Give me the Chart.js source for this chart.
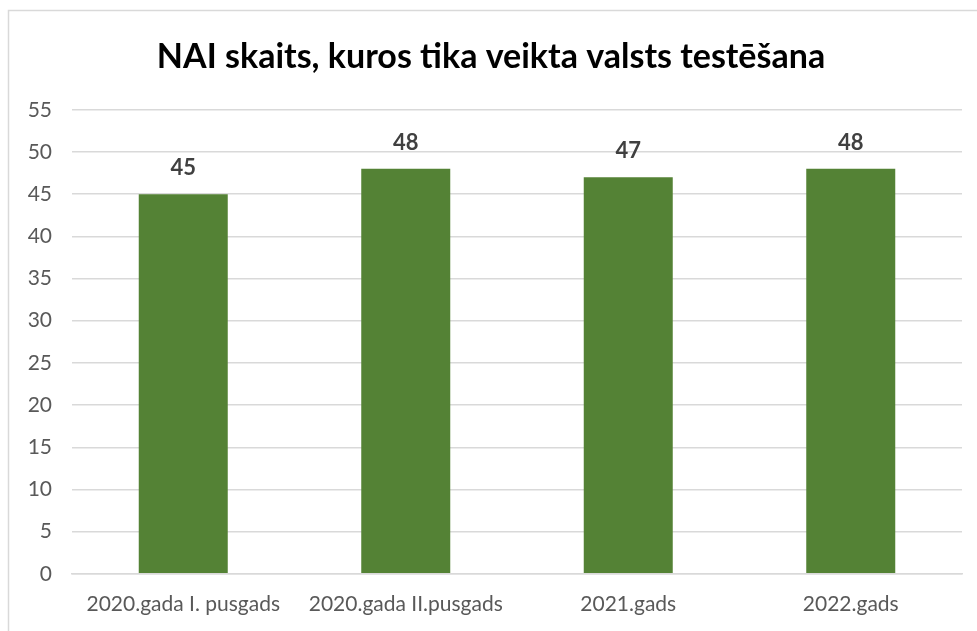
<!DOCTYPE html>
<html>
<head>
<meta charset="utf-8">
<script src="https://cdn.jsdelivr.net/npm/chart.js@4.4.0/dist/chart.umd.min.js"></script>
<style>
  html, body { margin: 0; padding: 0; background: #fff; }
  #wrap { width: 977px; height: 631px; position: relative; }
</style>
</head>
<body>
<div id="wrap"><canvas id="chart" width="977" height="631"></canvas></div>
<script>
const categories = ['2020.gada I. pusgads', '2020.gada II.pusgads', '2021.gads', '2022.gads'];
const values = [45, 48, 47, 48];
const chartTitle = 'NAI skaits, kuros tika veikta valsts testēšana';

// border around the chart + white background
const frame = {
  id: 'frame',
  beforeDraw(chart) {
    const ctx = chart.ctx;
    ctx.save();
    ctx.fillStyle = '#fff';
    ctx.fillRect(0, 0, chart.width, chart.height);
    ctx.strokeStyle = '#d9d9d9';
    ctx.lineWidth = 1.5;
    ctx.strokeRect(8.5, 10.5, chart.width + 10, chart.height + 10);
    ctx.restore();
  }
};

// values above the bars
const barValues = {
  id: 'barValues',
  afterDatasetsDraw(chart) {
    const ctx = chart.ctx;
    ctx.save();
    ctx.font = 'bold 22px Lato';
    ctx.fillStyle = '#404040';
    ctx.textAlign = 'center';
    ctx.textBaseline = 'bottom';
    chart.getDatasetMeta(0).data.forEach((bar, i) => {
      ctx.fillText(values[i], bar.x, bar.y - 15);
    });
    ctx.restore();
  }
};

new Chart(document.getElementById('chart'), {
  type: 'bar',
  data: {
    labels: categories,
    datasets: [{
      data: values,
      backgroundColor: '#548235',
      barPercentage: 0.8,
      categoryPercentage: 0.5
    }]
  },
  options: {
    responsive: false,
    animation: false,
    layout: { padding: { left: 20, right: 15, top: 37, bottom: -4 } },
    plugins: {
      legend: { display: false },
      tooltip: { enabled: false },
      title: {
        display: true,
        text: chartTitle,
        color: '#000',
        font: { family: 'Lato', size: 34, weight: 'bold' },
        padding: { top: 0, bottom: 32 }
      }
    },
    scales: {
      x: {
        grid: { display: false, drawTicks: false },
        border: { color: '#d9d9d9', width: 1.5 },
        ticks: { color: '#595959', font: { family: 'Lato', size: 21 }, padding: 18, maxRotation: 0 }
      },
      y: {
        min: 0,
        max: 55,
        afterFit(scale) { scale.width = 52; },
        grid: { color: '#d9d9d9', lineWidth: 1.5, drawTicks: false },
        border: { display: false },
        ticks: { stepSize: 5, color: '#595959', font: { family: 'Lato', size: 21 }, padding: 20 }
      }
    }
  },
  plugins: [frame, barValues]
});
</script>
</body>
</html>
